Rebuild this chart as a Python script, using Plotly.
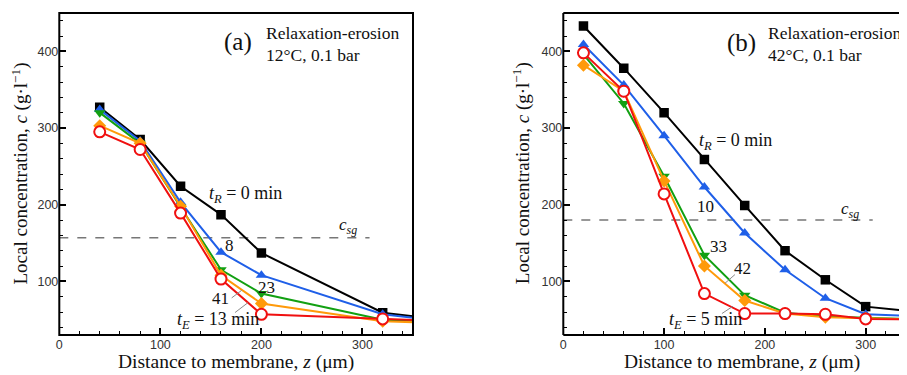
import plotly.graph_objects as go

# ---------------- data ----------------
# Panel (a): 12°C, 0.1 bar
za = [40, 80, 120, 160, 200, 320, 360]
a_t0 = [327, 285, 224, 187, 137, 59, 53]
a_t8 = [324, 283, 203, 138, 108, 57, 51]
a_t23 = [320, 280, 197, 115, 84, 50, 48]
a_t41 = [303, 280, 198, 108, 71, 48, 46]
a_tE13 = [295, 272, 189, 103, 57, 51, 49]
a_csg = 157

# Panel (b): 42°C, 0.1 bar
zb = [20, 60, 100, 140, 180, 220, 260, 300, 360]
b_t0 = [433, 378, 320, 259, 199, 140, 102, 67, 59]
b_t10 = [409, 356, 290, 223, 163, 115, 78, 57, 54]
b_t33 = [396, 332, 237, 134, 82, 59, 54, 52, 50]
b_t42 = [382, 348, 231, 120, 75, 58, 53, 52, 50]
b_tE5 = [398, 348, 214, 84, 58, 58, 57, 51, 50]
b_csg = 180

xticks = [0, 100, 200, 300]
yticks = [100, 200, 300, 400]

SERIF = "Liberation Serif"
SANS = "Liberation Sans"

# page body has an 8px margin: figure pixel = page pixel - 8
OFF = 8
W, H = 907 - OFF, 375 - OFF
def px(X):
    return (X - OFF) / W
def py(Y):
    return 1 - (Y - OFF) / H

styles = [
    dict(color="#000000", symbol="square", size=9.5, fill="#000000"),
    dict(color="#1f5fe8", symbol="triangle-up", size=10, fill="#1f5fe8"),
    dict(color="#12a012", symbol="triangle-down", size=10, fill="#12a012"),
    dict(color="#ff9a0a", symbol="diamond", size=10, fill="#ff9a0a"),
    dict(color="#f01010", symbol="circle", size=11, fill="#ffffff"),
]

fig = go.Figure()

def add_panel(xs, series, xa, ya):
    for ys, st in zip(series, styles):
        fig.add_trace(go.Scatter(
            x=xs, y=ys, mode="lines+markers", xaxis=xa, yaxis=ya,
            line=dict(color=st["color"], width=2),
            marker=dict(symbol=st["symbol"], size=st["size"], color=st["fill"],
                        line=dict(color=st["color"], width=2 if st["symbol"] == "circle" else 0)),
            showlegend=False, hoverinfo="skip"))

# c_sg dashed lines
fig.add_trace(go.Scatter(x=[0, 307], y=[a_csg, a_csg], mode="lines", xaxis="x", yaxis="y",
                         line=dict(color="#777777", width=1.5, dash="dash"), showlegend=False))
fig.add_trace(go.Scatter(x=[0, 307], y=[b_csg, b_csg], mode="lines", xaxis="x2", yaxis="y2",
                         line=dict(color="#777777", width=1.5, dash="dash"), showlegend=False))

add_panel(za, [a_t0, a_t8, a_t23, a_t41, a_tE13], "x", "y")
add_panel(zb, [b_t0, b_t10, b_t33, b_t42, b_tE5], "x2", "y2")

ydom = [py(335), py(13)]
common_x = dict(range=[0, 350], tickvals=xticks, ticks="inside", ticklen=7, tickwidth=2,
                tickcolor="#000", showline=False,
                showgrid=False, zeroline=False, automargin=False,
                tickfont=dict(family=SANS, size=12.5, color="#333"),
                minor=dict(ticks="inside", ticklen=4, tickwidth=1, dtick=20, tick0=0,
                           tickcolor="#000", showgrid=False))
common_y = dict(range=[30, 450], tickvals=yticks, ticks="inside", ticklen=7, tickwidth=2,
                tickcolor="#000", showline=False,
                showgrid=False, zeroline=False, automargin=False,
                tickfont=dict(family=SANS, size=12.5, color="#333"),
                minor=dict(ticks="inside", ticklen=4, tickwidth=1, dtick=20, tick0=0,
                           tickcolor="#000", showgrid=False))

fig.update_layout(
    width=W, height=H,
    margin=dict(l=0, r=0, t=0, b=0, autoexpand=False),
    paper_bgcolor="white", plot_bgcolor="white",
    xaxis=dict(common_x, domain=[px(59.3), px(413)], anchor="y"),
    yaxis=dict(common_y, domain=ydom, anchor="x"),
    xaxis2=dict(common_x, domain=[px(563.3), 1.0], anchor="y2", range=[0, 341]),
    yaxis2=dict(common_y, domain=ydom, anchor="x2"),
)

anns = []
def txt(text, x, y, xref, yref, size=17, xanchor="center", yanchor="middle", angle=0):
    anns.append(dict(text=text, x=x, y=y, xref=xref, yref=yref, showarrow=False,
                     font=dict(family=SERIF, size=size, color="#111"),
                     xanchor=xanchor, yanchor=yanchor, textangle=angle))

# panel (a) texts
txt("(a)", 176.8, 412.7, "x", "y", size=25)
txt("Relaxation-erosion", 202.6, 424.4, "x", "y", size=17.5, xanchor="left")
txt("12°C, 0.1 bar", 202.6, 395.7, "x", "y", size=17.5, xanchor="left")
txt("<i>t</i><sub><i>R</i></sub> = 0 min", 183.8, 213, "x", "y", size=18)
txt("<i>c</i><sub><i>sg</i></sub>", 285.2, 171.8, "x", "y", size=17)
txt("8", 168.9, 146.6, "x", "y", size=17)
txt("23", 205.2, 91.4, "x", "y", size=17)
txt("41", 159.8, 77.5, "x", "y", size=17)
txt("<i>t</i><sub><i>E</i></sub> = 13 min", 157.4, 49.1, "x", "y", size=18)

# panel (b) texts
txt("(b)", 177, 411.3, "x2", "y2", size=25)
txt("Relaxation-erosion", 201.1, 424.4, "x2", "y2", size=17.5, xanchor="left")
txt("42°C, 0.1 bar", 201.1, 395.7, "x2", "y2", size=17.5, xanchor="left")
txt("<i>t</i><sub><i>R</i></sub> = 0 min", 171.1, 282.6, "x2", "y2", size=18)
txt("10", 140.6, 197.8, "x2", "y2", size=17)
txt("33", 153.8, 145.7, "x2", "y2", size=17)
txt("42", 177.8, 116.2, "x2", "y2", size=17)
txt("<i>t</i><sub><i>E</i></sub> = 5 min", 141.4, 49.1, "x2", "y2", size=18)
txt("<i>c</i><sub><i>sg</i></sub>", 284.4, 193.6, "x2", "y2", size=17)

# axis titles
ytitle = "Local concentration, <i>c</i> (g·l<sup>−1</sup>)"
xtitle = "Distance to membrane, <i>z</i> (μm)"
txt(ytitle, px(20), py(173.5), "paper", "paper", size=19, angle=-90)
txt(ytitle, px(521.7), py(173.5), "paper", "paper", size=19, angle=-90)
txt(xtitle, px(236), py(362), "paper", "paper", size=19.5)
txt(xtitle, px(741.7), py(362), "paper", "paper", size=19.5)

fig.update_layout(annotations=anns)

# frames
fig.add_shape(type="rect", xref="x domain", yref="y domain", x0=0, x1=1, y0=0, y1=1,
              line=dict(color="#000", width=2), layer="above")
for x0, y0, x1, y1 in [(0, 0, 1.02, 0), (0, 1, 1.02, 1), (0, 0, 0, 1)]:
    fig.add_shape(type="line", xref="x2 domain", yref="y2 domain", x0=x0, y0=y0, x1=x1, y1=y1,
                  line=dict(color="#000", width=2), layer="above")

# leader lines
leaders = [
    ("x", "y", 170.6, 78.4, 180.5, 88.3),
    ("x", "y", 173.9, 59.3, 186.7, 72.2),
    ("x2", "y2", 160.4, 97.5, 170.3, 108.8),
    ("x2", "y2", 157.4, 58.0, 168.3, 67.5),
]
for xr, yr, x0, y0, x1, y1 in leaders:
    fig.add_shape(type="line", xref=xr, yref=yr, x0=x0, y0=y0, x1=x1, y1=y1,
                  line=dict(color="#8a8a8a", width=1))

fig.write_html("out.html")
